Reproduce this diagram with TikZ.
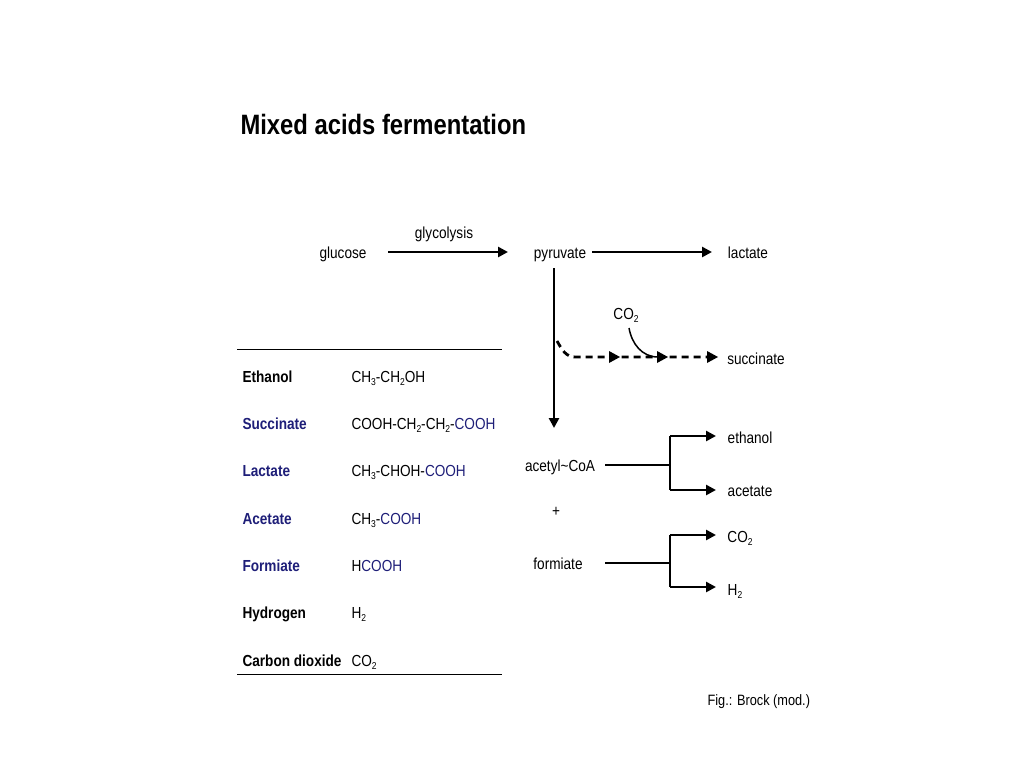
\documentclass[tikz,border=0pt]{standalone}
\usepackage{fontspec}
\setmainfont{Liberation Sans}[FakeStretch=0.85]
\usetikzlibrary{arrows.meta}
\definecolor{nb}{RGB}{30,30,120}
\tikzset{
 lbl/.style={font=\fontsize{16}{18}\selectfont,anchor=base},
 tname/.style={font=\fontsize{16}{18}\selectfont\bfseries,anchor=base west},
 tform/.style={font=\fontsize{16}{18}\selectfont,anchor=base west},
 arr/.style={line width=2.8pt,-{Triangle[length=10pt,width=10pt]}},
 br/.style={line width=2.8pt},
}
\newcommand{\bl}[1]{\textcolor{nb}{#1}}
\newcommand{\sbs}[1]{\raisebox{-0.45ex}{\fontsize{10}{10}\selectfont #1}}
\begin{document}
\begin{tikzpicture}[x=1pt,y=-1pt]
\useasboundingbox (0,0) rectangle (1024,768);
\node[anchor=base west,font=\fontsize{28}{32}\selectfont\bfseries] (title) at (237,134) {Mixed acids fermentation};
\node[lbl] (glu) at (343,258) {glucose};
\node[lbl] (gly) at (444,238) {glycolysis};
\node[lbl] (pyr) at (560,258) {pyruvate};
\node[lbl] (lac) at (748,258) {lactate};
\node[lbl] (suc) at (756,364) {succinate};
\node[lbl] (co2a) at (626,319) {CO\sbs{2}};
\node[lbl] (acc) at (560,471) {acetyl\char"7E CoA};
\node[lbl] (plus) at (556,516) {+};
\node[lbl] (for) at (558,569) {formiate};
\node[lbl] (eth) at (750,443) {ethanol};
\node[lbl] (ace) at (750,496) {acetate};
\node[lbl] (co2b) at (740,542) {CO\sbs{2}};
\node[lbl] (h2) at (735,595) {H\sbs{2}};
\draw[arr] (388,252) -- (508,252);
\draw[arr] (592,252) -- (712,252);
\draw[arr] (554,268) -- (554,428);
\draw[line width=2.8pt,dash pattern=on 7pt off 5pt] (557,341) to[out=-60,in=180] (575,357) -- (712,357);
\foreach \x in {620,668,718}{\fill (\x,357) -- (\x-11,351) -- (\x-11,363) -- cycle;}
\draw[line width=1.5pt] (629,328) to[out=-80,in=180] (658,357);
\draw[br] (605,465) -- (670,465);
\draw[br] (670,436) -- (670,490);
\draw[arr] (670,436) -- (716,436);
\draw[arr] (670,490) -- (716,490);
\draw[br] (605,563) -- (670,563);
\draw[br] (670,535) -- (670,587);
\draw[arr] (670,535) -- (716,535);
\draw[arr] (670,587) -- (716,587);
\draw[line width=0.8pt] (237,349) -- (502,349);
\draw[line width=0.8pt] (237,674) -- (502,674);
\node[tname] (n1) at (239,382) {Ethanol};
\node[tform] (f1) at (348,382) {CH\sbs{3}-CH\sbs{2}OH};
\node[tname,nb] (n2) at (239,429) {Succinate};
\node[tform] (f2) at (348,429) {COOH-CH\sbs{2}-CH\sbs{2}-\bl{COOH}};
\node[tname,nb] (n3) at (239,476) {Lactate};
\node[tform] (f3) at (348,476) {CH\sbs{3}-CHOH-\bl{COOH}};
\node[tname,nb] (n4) at (239,524) {Acetate};
\node[tform] (f4) at (348,524) {CH\sbs{3}-\bl{COOH}};
\node[tname,nb] (n5) at (239,571) {Formiate};
\node[tform] (f5) at (348,571) {H\bl{COOH}};
\node[tname] (n6) at (239,618) {Hydrogen};
\node[tform] (f6) at (348,618) {H\sbs{2}};
\node[tname] (n7) at (239,666) {Carbon dioxide};
\node[tform] (f7) at (348,666) {CO\sbs{2}};
\node[anchor=base west,font=\fontsize{15}{17}\selectfont] (fig) at (704,705) {Fig.: Brock (mod.)};
\end{tikzpicture}
\end{document}
